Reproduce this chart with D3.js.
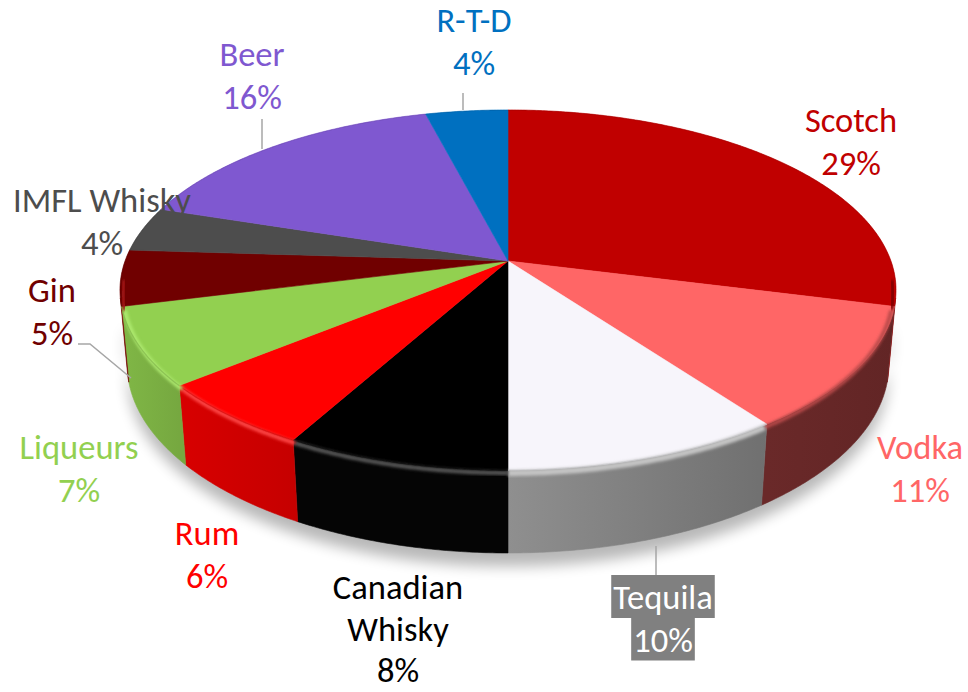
<!DOCTYPE html>
<html>
<head>
<meta charset="utf-8">
<script src="https://cdn.jsdelivr.net/npm/d3@7"></script>
<style>
  html, body { margin: 0; background: #fff; }
  svg { display: block; }
</style>
</head>
<body>
<svg id="chart" width="968" height="692"></svg>
<script>
// Spirits market share, clockwise from 12 o'clock
const categories = ["Scotch", "Vodka", "Tequila", "Canadian Whisky", "Rum",
                    "Liqueurs", "Gin", "IMFL Whisky", "Beer", "R-T-D"];
const shares = [29, 11, 10, 8, 6, 7, 5, 4, 16, 4];

// Slice styling
const topColors   = ["#C00000", "#FF6666", "#F7F5FB", "#000000", "#FF0000",
                     "#92D050", "#700000", "#4D4D4D", "#7F58D0", "#0070C0"];
const sideColors  = ["#8E0000", "#662727", "#7A7A7A", "#050505", "#CF0000",
                     "#7BAF43", "#7A0000", "#3A3A3A", "#5E3FA8", "#00508E"];
const rimColors   = ["#7A0000", "#B84A4A", "#C4C4C4", "#5A5A5A", "#FF4A4A",
                     "#AEEA70", "#A01515", "#3A3A3A", "#6040B0", "#005090"];
const labelColors = ["#C00000", "#FF6666", "#FFFFFF", "#000000", "#FF0000",
                     "#92D050", "#700000", "#4D4D4D", "#7F58D0", "#0070C0"];

// Label lines per category (name split over lines, value appended)
const labelNames = [["Scotch"], ["Vodka"], ["Tequila"], ["Canadian", "Whisky"], ["Rum"],
                    ["Liqueurs"], ["Gin"], ["IMFL Whisky"], ["Beer"], ["R-T-D"]];

// Label placement: centre x, first baseline and line spacing
const labelLayout = [
  {x: 851, y: 132, gap: 42.5}, {x: 920, y: 459, gap: 42.5}, {x: 663, y: 609, gap: 42.5},
  {x: 398, y: 599, gap: 41.5}, {x: 207, y: 545, gap: 42.5}, {x: 79, y: 459, gap: 42.5},
  {x: 52, y: 302, gap: 42.5}, {x: 102, y: 212, gap: 42.5}, {x: 252, y: 66, gap: 42.5},
  {x: 474, y: 32, gap: 42.5}
];
const leaderLines = [
  [[463, 93], [463, 110]],
  [[262, 119], [262, 149]],
  [[78, 344], [90, 344], [131, 378]],
  [[656, 546], [656, 575]]
];

// Perspective camera looking down on a unit-radius disc
const view = { cx: 508, cy: 261, focal: 2114, dist: 5.52, tilt: Math.asin(0.458), thick: 0.22 };
const sT = Math.sin(view.tilt), cT = Math.cos(view.tilt);

function project(theta, r, h) {
  const x = r * Math.sin(theta), z = -r * Math.cos(theta), y = h;
  const dep = view.dist - y * sT - z * cT;
  const up = y * cT - z * sT;
  return [view.cx + view.focal * x / dep, view.cy - view.focal * up / dep];
}
function arcPts(a0, a1, h, r = 1) {
  const n = Math.max(2, Math.ceil(Math.abs(a1 - a0) / (Math.PI / 360)));
  return d3.range(n + 1).map(i => project(a0 + (a1 - a0) * i / n, r, h));
}
// Side wall faces the camera where cos(theta) < -1/(dist*cos(tilt))
const visLimit = Math.acos(-1 / (view.dist * cT));
const visStart = visLimit, visEnd = 2 * Math.PI - visLimit;

const svg = d3.select("#chart");
const defs = svg.append("defs");
const line = d3.line();
const closed = pts => line(pts) + "Z";

const blurRim = defs.append("filter").attr("id", "rimBlur")
  .attr("x", "-10%").attr("y", "-10%").attr("width", "120%").attr("height", "120%");
blurRim.append("feGaussianBlur").attr("stdDeviation", 1.6);
const blurShadow = defs.append("filter").attr("id", "shadowBlur")
  .attr("x", "-20%").attr("y", "-50%").attr("width", "140%").attr("height", "200%");
blurShadow.append("feGaussianBlur").attr("stdDeviation", 7);

const pie = d3.pie().sort(null).value(d => d);
const arcs = pie(shares);

// Whole-disc outline used to keep the bevel strokes inside the solid
const topRing = arcPts(0, 2 * Math.PI, 0);
const bandTop = arcPts(visStart, visEnd, 0);
const bandBot = arcPts(visEnd, visStart, -view.thick);
const clip = defs.append("clipPath").attr("id", "solidClip");
clip.append("path").attr("d", closed(topRing));
clip.append("path").attr("d", closed(bandTop.concat(bandBot)));

// Soft ground shadow
const shadowPts = arcPts(visStart - 0.15, visEnd + 0.15, -view.thick - 0.02)
  .map(p => [p[0], p[1] + 6]);
svg.append("path")
  .attr("d", closed(shadowPts.concat(arcPts(visEnd + 0.15, visStart - 0.15, -view.thick + 0.06))))
  .attr("fill", "#000").attr("opacity", 0.28).attr("filter", "url(#shadowBlur)");

// Side walls
const sides = svg.append("g");
arcs.forEach((a, i) => {
  const s0 = Math.max(a.startAngle, visStart), s1 = Math.min(a.endAngle, visEnd);
  if (s1 <= s0) return;
  const top = arcPts(s0, s1, 0), bot = arcPts(s1, s0, -view.thick);
  const x0 = top[0][0], x1 = top[top.length - 1][0];
  const base = d3.color(sideColors[i]);
  const g = defs.append("linearGradient").attr("id", "side" + i)
    .attr("gradientUnits", "userSpaceOnUse")
    .attr("x1", Math.min(x0, x1)).attr("x2", Math.max(x0, x1)).attr("y1", 0).attr("y2", 0);
  const light = i === 2 ? base.brighter(0.45) : base.brighter(0.12);
  const dark = i === 2 ? base.darker(0.25) : base.darker(0.12);
  g.append("stop").attr("offset", 0).attr("stop-color", light);
  g.append("stop").attr("offset", 1).attr("stop-color", dark);
  sides.append("path").attr("d", closed(top.concat(bot)))
    .attr("fill", `url(#side${i})`).attr("stroke", `url(#side${i})`).attr("stroke-width", 0.6);
});

// Top faces
const tops = svg.append("g");
arcs.forEach((a, i) => {
  const pts = [project(0, 0, 0)].concat(arcPts(a.startAngle, a.endAngle, 0));
  tops.append("path").attr("d", closed(pts))
    .attr("fill", topColors[i]).attr("stroke", topColors[i]).attr("stroke-width", 0.6);
});

// Bevelled rim along the front edge, a fine darker edge along the back
const rims = svg.append("g").attr("clip-path", "url(#solidClip)");
const pad = 0.12;
arcs.forEach((a, i) => {
  const f0 = Math.max(a.startAngle, visStart - pad), f1 = Math.min(a.endAngle, visEnd + pad);
  if (f1 > f0) {
    rims.append("path").attr("d", line(arcPts(f0, f1, -0.012, 0.993)))
      .attr("fill", "none").attr("stroke", rimColors[i])
      .attr("stroke-width", i === 2 ? 6 : 4).attr("filter", "url(#rimBlur)");
  }
  rims.append("path").attr("d", line(arcPts(a.startAngle, a.endAngle, 0)))
    .attr("fill", "none").attr("stroke", d3.color(topColors[i]).darker(0.6))
    .attr("stroke-width", 1.2).attr("opacity", 0.55);
});

// Leader lines
svg.append("g").selectAll("path").data(leaderLines).join("path")
  .attr("d", d => line(d)).attr("fill", "none")
  .attr("stroke", "#A6A6A6").attr("stroke-width", 1.5);

// Labels
const fmt = d3.format(".0%");
const labels = svg.append("g")
  .style("font-family", "Carlito, Calibri, 'Open Sans', sans-serif")
  .style("font-size", "34.5px");
categories.forEach((c, i) => {
  const rows = labelNames[i].concat([fmt(shares[i] / 100)]);
  const L = labelLayout[i];
  const grp = labels.append("g");
  const texts = rows.map((r, k) => grp.append("text")
    .attr("x", L.x).attr("y", L.y + k * L.gap)
    .attr("text-anchor", "middle").attr("fill", labelColors[i]).text(r));
  if (c === "Tequila") {
    texts.forEach((t, k) => {
      const b = t.node().getBBox();
      grp.insert("rect", "text")
        .attr("x", b.x - 2).attr("y", L.y + k * L.gap - 34)
        .attr("width", b.width + 4).attr("height", L.gap + 0.5)
        .attr("fill", "#808080");
    });
  }
});
</script>
</body>
</html>
